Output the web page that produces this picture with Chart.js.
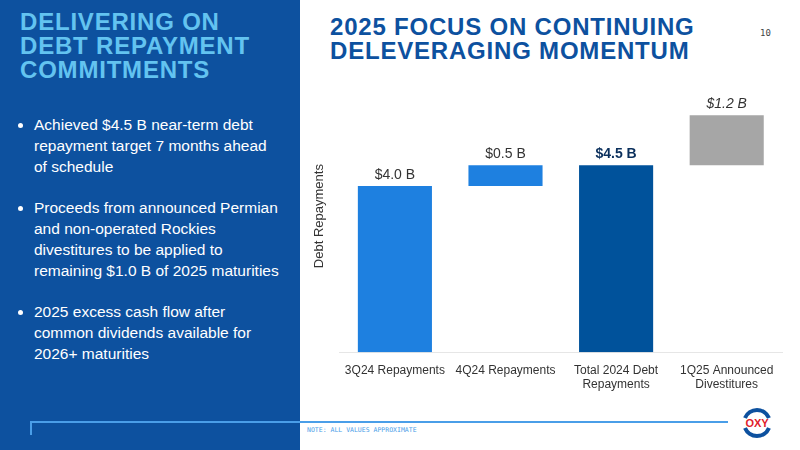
<!DOCTYPE html>
<html>
<head>
<meta charset="utf-8">
<script src="https://cdn.jsdelivr.net/npm/chart.js@4"></script>
<style>
  body { margin: 0; width: 800px; height: 450px; overflow: hidden; background: #fff; font-family: "Liberation Sans", Arial, sans-serif; position: relative; }
  #left { position: absolute; left: 0; top: 0; width: 300px; height: 450px; background: #0d519f; }
  #left h1 { position: absolute; left: 20px; top: 10px; margin: 0; color: #63c3f0; font-size: 24px; line-height: 24px; font-weight: bold; letter-spacing: 0.8px; }
  #left ul { position: absolute; left: 14px; top: 114px; margin: 0; padding-left: 20px; color: #fff; font-size: 15.5px; line-height: 21px; width: 290px; white-space: nowrap; }
  #left li { margin-bottom: 20px; }
  #title { position: absolute; left: 330px; top: 15px; margin: 0; color: #0d519f; font-size: 24px; line-height: 24px; font-weight: bold; letter-spacing: 0.8px; }
  #page { position: absolute; left: 760px; top: 28px; font-family: "DejaVu Sans Mono", monospace; font-size: 9px; color: #444; }
  #wrap { position: absolute; left: 300px; top: 80px; width: 500px; height: 315px; }
  #rule { position: absolute; left: 30px; top: 421px; width: 698px; height: 2px; background: #4a9ee8; }
  #tick { position: absolute; left: 30px; top: 421px; width: 2px; height: 14px; background: #4a9ee8; }
  #note { position: absolute; left: 307px; top: 426px; font-family: "DejaVu Sans Mono", monospace; font-size: 6.5px; color: #4a9ee8; }
  #logo { position: absolute; left: 740px; top: 406px; }
</style>
</head>
<body>
<div id="left">
  <h1>DELIVERING ON<br>DEBT REPAYMENT<br>COMMITMENTS</h1>
  <ul>
    <li>Achieved $4.5 B near-term debt<br>repayment target 7 months ahead<br>of schedule</li>
    <li>Proceeds from announced Permian<br>and non-operated Rockies<br>divestitures to be applied to<br>remaining $1.0 B of 2025 maturities</li>
    <li>2025 excess cash flow after<br>common dividends available for<br>2026+ maturities</li>
  </ul>
</div>
<h2 id="title">2025 FOCUS ON CONTINUING<br>DELEVERAGING MOMENTUM</h2>
<div id="page">10</div>
<div id="wrap"><canvas id="chart"></canvas></div>
<div id="rule"></div><div id="tick"></div>
<div id="note">NOTE: ALL VALUES APPROXIMATE</div>
<svg id="logo" width="34" height="34" viewBox="0 0 34 34">
  <path d="M5 12 A13 13 0 0 1 29 12" stroke="#0d519f" stroke-width="4" fill="none"/>
  <path d="M5 22 A13 13 0 0 0 29 22" stroke="#0d519f" stroke-width="4" fill="none"/>
  <text x="17" y="21" text-anchor="middle" font-family="Liberation Sans" font-weight="bold" font-size="11" fill="#e0202a">OXY</text>
</svg>
<script>
const categories = [['3Q24 Repayments'], ['4Q24 Repayments'], ['Total 2024 Debt', 'Repayments'], ['1Q25 Announced', 'Divestitures']];
const barRanges = [[0, 4.0], [4.0, 4.5], [0, 4.5], [4.5, 5.7]];
const valueLabels = ['$4.0 B', '$0.5 B', '$4.5 B', '$1.2 B'];
const barColors = ['#1e80e0', '#1e80e0', '#00529b', '#a6a6a6'];
const labelFonts = ['14px "Liberation Sans"', '14px "Liberation Sans"', 'bold 14px "Liberation Sans"', 'italic 14px "Liberation Sans"'];

const topLabels = {
  id: 'topLabels',
  afterDatasetsDraw(chart) {
    const ctx = chart.ctx;
    chart.getDatasetMeta(0).data.forEach((bar, i) => {
      ctx.save();
      ctx.font = labelFonts[i];
      ctx.fillStyle = i === 2 ? '#0a2f5c' : '#333';
      ctx.textAlign = 'center';
      ctx.textBaseline = 'bottom';
      ctx.fillText(valueLabels[i], bar.x, bar.y - 4);
      ctx.restore();
    });
  }
};

new Chart(document.getElementById('chart'), {
  type: 'bar',
  data: {
    labels: categories,
    datasets: [{ data: barRanges, backgroundColor: barColors, categoryPercentage: 1, barPercentage: 0.67 }]
  },
  options: {
    responsive: true,
    maintainAspectRatio: false,
    animation: false,
    layout: { padding: { top: 0, right: 18, left: 8, bottom: 0 } },
    plugins: { legend: { display: false }, tooltip: { enabled: false } },
    scales: {
      y: {
        min: 0, max: 6.55,
        ticks: { display: false },
        grid: { display: false },
        border: { display: false },
        title: { display: true, text: 'Debt Repayments', color: '#333', font: { family: 'Liberation Sans', size: 13 } }
      },
      x: {
        grid: { display: false },
        border: { color: '#e6e6e6' },
        ticks: { color: '#333', font: { family: 'Liberation Sans', size: 12 }, maxRotation: 0 }
      }
    }
  },
  plugins: [topLabels]
});
</script>
</body>
</html>
